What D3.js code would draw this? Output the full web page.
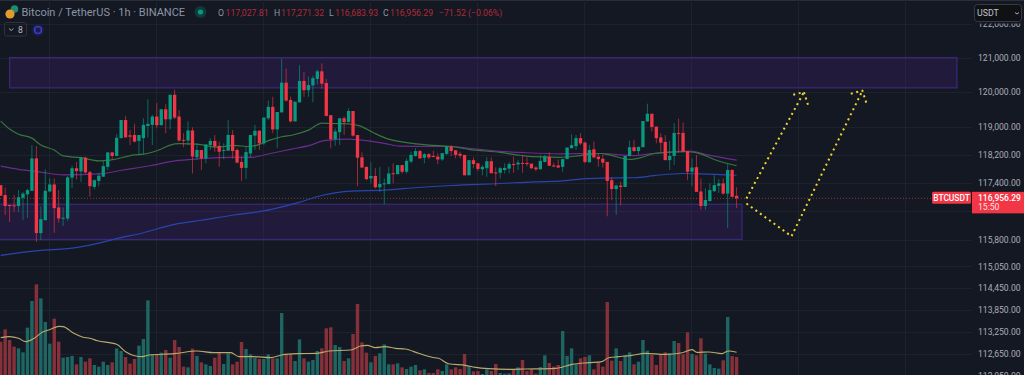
<!DOCTYPE html>
<html><head><meta charset="utf-8">
<script src="https://cdn.jsdelivr.net/npm/d3@7"></script>
<style>
html,body{margin:0;padding:0;background:#141823;overflow:hidden}
svg{display:block}
text{font-family:Roboto,"Liberation Sans",sans-serif}
</style></head><body><svg id="c" width="1024" height="375"></svg>
<script>
const opens=[117330,117050,116770,116760,116740,116970,117070,117170,118090,115980,116340,117150,117350,116700,116390,116390,117540,117810,117720,118110,117700,117280,117450,117570,117850,118260,118160,118670,119190,118750,118760,118590,118670,119020,119050,119290,119040,119500,119210,119920,119290,118620,118600,118890,118120,118330,118090,118470,118590,118450,118310,118310,118760,118330,117990,117820,
118230,118740,118880,118520,119240,119570,118920,119410,120270,119770,119150,119700,120320,120050,120190,120380,120600,120260,119330,118640,118840,119240,119130,119450,118760,118120,117850,117520,117590,117270,117360,117360,117670,117640,117900,117710,118000,118160,118300,118110,118210,118160,118140,118060,118220,118430,118320,118220,118190,117610,118040,117950,117780,117810,118010,117690,
117680,117760,117800,117930,117920,117960,117960,117940,117830,117780,117990,118140,117890,117890,117850,118070,118380,118440,118670,118540,117980,118350,118140,118080,117990,117470,117220,117320,117280,118160,118410,118300,118410,119150,119370,119000,118690,118560,118040,118160,118820,118820,118300,117710,117840,117150,116740,116880,117160,117310,117380,117090,117760,117027.81];
const highs=[117330,117260,116770,117050,117190,117140,117230,118470,118440,116730,117780,117520,117520,117190,116700,117590,117880,117990,118140,118140,117740,117490,117680,118020,118280,118280,118780,119190,119310,118900,119080,118760,119240,119790,119340,119680,119500,119650,119920,120070,119480,118810,119150,118980,118520,118330,118490,118670,118760,118570,118520,119190,118900,118380,118140,118410,
118760,119050,118900,119260,119750,119860,119420,120970,120680,119870,119720,120780,120580,120450,120470,120650,120830,120380,119330,118950,119240,119290,119530,119450,118760,118260,117850,117980,117810,117850,117520,117850,117950,117900,117900,118090,118280,118380,118330,118240,118240,118310,118240,118240,118450,118470,118330,118280,118190,118040,118120,117950,117900,118120,118120,117830,
117850,117950,117990,118140,118050,118190,118120,117940,117870,118190,118190,118260,117970,118060,118070,118400,118780,118760,118810,118570,118470,118570,118240,118190,117990,117550,117340,117430,118160,118600,118620,118420,119160,119660,119370,119000,118810,118760,118590,119100,119230,119120,118300,118090,118190,117520,117240,117380,117610,117500,117520,117930,117780,117271.32];
const lows=[117030,116480,116290,116570,116570,116340,116410,117170,115730,115780,116340,117150,115990,116270,116180,116320,117250,117490,117420,117660,117000,117210,117300,117570,117760,118040,118140,118660,118690,118470,118550,118190,118220,118690,118470,118950,119040,118810,118920,119220,118570,118410,118470,117660,118040,117760,117950,118330,118280,117850,118070,118310,118090,117950,117450,117500,
118120,118330,118330,118470,119190,118810,118380,119410,119720,119120,119150,119700,119860,119860,119700,120210,120090,119290,118380,118450,118470,118760,119130,118710,117300,117830,117470,117380,117240,117140,116790,117360,117380,117640,117660,117660,117950,118140,118090,117950,118070,118120,117930,118020,118190,118160,118090,118090,117610,117610,117810,117730,117610,117570,117660,117300,
117520,117660,117660,117680,117760,117680,117870,117790,117730,117780,117970,117870,117840,117810,117710,118070,118380,118330,118470,117950,117980,118090,117850,117830,116450,116900,116490,116760,117280,118140,118280,118190,118410,119140,118860,118520,118280,118040,117760,117900,118280,118280,117470,117300,117140,116630,116630,116860,117140,117110,117070,116120,116980,116683.93];
const closes=[117030,116740,116740,116740,116990,117090,117190,118090,115980,116370,117170,117350,116680,116390,116410,117550,117810,117730,118110,117690,117300,117470,117600,117870,118260,118160,118680,119190,118690,118710,118570,118760,119050,119080,119290,119040,119500,119210,119920,119260,118600,118600,118890,118140,118330,118090,118490,118590,118430,118280,118330,118760,118300,117970,117820,118270,
118760,118880,118520,119260,119570,118920,119420,120270,119750,119150,119720,120320,120050,120200,120400,120600,120240,119310,118640,118860,119240,119130,119450,118740,118110,117830,117500,117590,117270,117360,117380,117660,117660,117900,117710,118020,118190,118300,118090,118210,118120,118150,118060,118240,118430,118300,118190,118170,117610,118040,117930,117790,117850,118010,117670,117670,
117810,117820,117930,117900,117970,117940,117930,117810,117780,118020,118150,117880,117860,117830,118070,118400,118470,118670,118520,117990,118330,118120,118070,117970,117450,117220,117320,117280,118160,118410,118300,118420,119160,119370,118990,118670,118540,118040,118160,118820,118800,118280,117710,117830,117140,116740,116910,117190,117330,117380,117090,117760,117000,116956.29];
const volumes=[327,438,342,282,267,231,453,693,843,717,504,309,534,327,183,189,198,123,189,147,177,117,102,147,117,141,267,243,189,129,171,291,351,699,213,207,228,252,183,342,279,102,96,264,198,141,123,108,183,231,126,222,123,147,324,261,213,183,171,171,213,177,177,585,213,213,153,348,177,147,162,243,267,447,456,297,279,153,177,396,666,321,228,141,198,222,303,123,123,132,96,81,102,117,69,78,45,45,78,63,123,78,96,81,216,108,60,63,36,78,63,126,45,39,42,78,96,162,63,78,39,99,204,135,102,117,423,198,267,123,177,189,204,78,141,102,684,156,267,153,204,231,123,147,342,246,207,117,207,231,222,333,315,213,411,216,204,357,219,123,90,84,159,549,198,189];

const fastIdx=[0,2,4,7,9,12,14,18,22,24.5,30,32,36,38,40,44,48.5,52,56,58,60.5,63,65.5,69,72,74,78,80.5,83.5,87,91,96,101,105,112,116.5,119.5,125.5,130,134.5,136.5,141,143.5,146.5,149.5,154,157,160,165];
const fastMA=[119160,118930,118780,118670,118470,118330,118160,118110,118020,118040,118190,118210,118360,118470,118510,118500,118410,118460,118430,118490,118620,118710,118760,118900,119100,119090,119080,119020,118830,118640,118540,118470,118430,118350,118260,118180,118140,118120,118170,118230,118190,118060,118110,118230,118260,118280,118220,118060,117880];
const midIdx=[0,4,9,14,22,27.5,33.5,39,44.5,52,56,60.5,65,69.5,72.5,78,80.5,86,89.5,96,101,105,112,116.5,125.5,134.5,142,145.5,149.5,154.5,158.5,165];
const midMA=[117870,117780,117700,117620,117650,117760,117880,118020,118080,118120,118120,118230,118350,118470,118600,118640,118620,118520,118440,118430,118430,118380,118290,118260,118220,118230,118170,118220,118270,118300,118190,118040];
const slowIdx=[0,9,15,22,26,32,39,45,52,56,60.5,66.5,72,78.5,86,93.5,101,112,119.5,125.5,130.5,136,142,146.5,153,157,165];
const slowMA=[115356,115496,115543,115700,115823,115990,116226,116339,116480,116546,116640,116829,117036,117160,117188,117263,117320,117377,117425,117444,117510,117530,117540,117600,117660,117650,117610];
const volMaIdx=[0,2,4,5.6,7.5,9.3,11.2,13,14,16.4,18.3,20,21.7,26,28,30,31.8,33.3,38.9,44,47.8,51.6,53.4,56.8,60.5,63,66.5,71,73.6,78.5,80.7,82.2,84,86.2,88.5,90.7,93.7,96.7,98.2,100.4,104.2,106.4,109.4,113.9,117.6,124.4,128.1,131.8,134.8,136.3,138.6,141.5,144.5,149,152.8,155,156.1,158.8,161.7,163.2,165];
const volMA=[363,372,357,327,357,411,438,465,462,402,369,357,336,303,237,201,192,207,219,243,228,228,192,192,183,207,219,222,243,252,288,294,273,282,267,261,222,186,177,129,114,96,84,78,81,87,123,138,147,183,192,204,222,213,228,255,231,234,219,243,231];

const priceTicks=[122000,121000,120000,119000,118200,117400,116600,115800,115050,114450,113850,113250,112650,112050];
const timeGridIdx=[11,35,59,83,107,131,155,179,203];
const zoneTop={i1:214.4,hi:121000,lo:120120,start:2};
const zoneBottom={i0:-2,i1:166.2,hi:116790,lo:115800};
const lastPrice=116956.29;
const projDownIdx=[167.2,177.3,193.2];
const projDownPrice=[116810,115890,120035];
const projUpIdx=[167.2,180.1];
const projUpPrice=[116950,119998];
const headAIdx=[177.7,180.1,181.0];
const headAPrice=[119920,119998,119630];
const headBIdx=[190.6,193.2,194.1];
const headBPrice=[119950,120035,119680];

const BG='#141823',GRID='#1e222d',UP='#089981',DOWN='#f23645';
const x=d3.scaleLinear().domain([0,100]).range([0.7,446.7]);
const y=d3.scaleLog().domain([121000,115800]).range([57.6,239.5]);
const yV=d3.scaleLinear().domain([0,900]).range([378,278]);
const svg=d3.select('#c');
svg.append('rect').attr('width',1024).attr('height',375).attr('fill',BG);
svg.append('rect').attr('width',1024).attr('height',1).attr('fill','#2a2e39');

svg.append('defs').append('clipPath').attr('id','pane').append('rect').attr('width',972).attr('height',375);
const pane=svg.append('g').attr('clip-path','url(#pane)');

// grid
pane.append('g').selectAll('line').data(priceTicks).join('line')
 .attr('x1',0).attr('x2',972).attr('y1',d=>Math.round(y(d))+.5).attr('y2',d=>Math.round(y(d))+.5).attr('stroke',GRID);
pane.append('g').selectAll('line').data(timeGridIdx).join('line')
 .attr('x1',d=>Math.round(x(d))-.5).attr('x2',d=>Math.round(x(d))-.5).attr('y1',0).attr('y2',375).attr('stroke',GRID);

// zones
const zone=(i0,i1,hi,lo)=>pane.append('rect').attr('x',x(i0)).attr('y',y(hi)).attr('width',x(i1)-x(i0)).attr('height',y(lo)-y(hi))
 .attr('fill','rgba(90,35,150,.2)').attr('stroke','#382878').attr('stroke-width',1.3);
zone(zoneTop.start,zoneTop.i1,zoneTop.hi,zoneTop.lo);
zone(zoneBottom.i0,zoneBottom.i1,zoneBottom.hi,zoneBottom.lo);

// volume
const n=closes.length, idx=d3.range(n), isUp=i=>closes[i]>=opens[i];
pane.append('g').selectAll('rect').data(idx).join('rect')
 .attr('x',i=>x(i)-1.7).attr('width',3.4).attr('y',i=>yV(volumes[i])).attr('height',i=>yV(0)-yV(volumes[i]))
 .attr('fill',i=>isUp(i)?'#1d6662':'#86313a');
const lineOf=(xs,ys,yy)=>d3.line().x(d=>x(d)).y((d,i)=>yy(ys[i])).curve(d3.curveMonotoneX)(xs);
pane.append('path').attr('d',lineOf(volMaIdx,volMA,yV)).attr('fill','none').attr('stroke','#b8ab6e').attr('stroke-width',1.1);

// last price line
pane.append('line').attr('x1',0).attr('x2',972).attr('y1',y(lastPrice)).attr('y2',y(lastPrice))
 .attr('stroke','#8f3540').attr('stroke-dasharray','1 2');

// moving averages
[[slowIdx,slowMA,'#2b44ad'],[midIdx,midMA,'#6b2a8c'],[fastIdx,fastMA,'#37763c']].forEach(([a,b,c])=>{
 pane.append('path').attr('d',lineOf(a,b,y)).attr('fill','none').attr('stroke',c).attr('stroke-width',1.2);
});

// candles
const cg=pane.append('g');
cg.selectAll('line').data(idx).join('line')
 .attr('x1',i=>x(i)).attr('x2',i=>x(i)).attr('y1',i=>y(highs[i])).attr('y2',i=>y(lows[i]))
 .attr('stroke',i=>isUp(i)?UP:DOWN).attr('stroke-opacity',.62).attr('stroke-width',1);
cg.selectAll('rect').data(idx).join('rect')
 .attr('x',i=>x(i)-1.65).attr('width',3.3)
 .attr('y',i=>y(Math.max(opens[i],closes[i])))
 .attr('height',i=>Math.max(1,y(Math.min(opens[i],closes[i]))-y(Math.max(opens[i],closes[i]))))
 .attr('fill',i=>isUp(i)?UP:DOWN);

// projection dotted
const straight=(xs,ys)=>d3.line().x(d=>x(d)).y((d,i)=>y(ys[i]))(xs);
[[projDownIdx,projDownPrice],[projUpIdx,projUpPrice],[headAIdx,headAPrice],[headBIdx,headBPrice]].forEach(([a,b])=>{
 pane.append('path').attr('d',straight(a,b)).attr('fill','none').attr('stroke','#f2d52c').attr('stroke-width',2).attr('stroke-dasharray','2 3.6');
});

// price axis
const axis=svg.append('g').attr('transform','translate(978,0)').call(d3.axisRight(y).tickValues(priceTicks.filter(d=>d!==116600)).tickFormat(d3.format(',.2f')).tickSize(0).tickPadding(0));
axis.select('.domain').remove();
axis.selectAll('text').attr('fill','#a9adb8').style('font-size','8.6px').style('font-family','Roboto,sans-serif');

// price tags
const tagY=y(lastPrice);
svg.append('rect').attr('x',932).attr('y',tagY-6.5).attr('width',39).attr('height',12).attr('rx',1.5).attr('fill',DOWN);
svg.append('text').attr('x',951.5).attr('y',tagY+3).attr('text-anchor','middle').attr('fill','#fff').style('font-size','8.4px').style('font-weight',500).text('BTCUSDT');
svg.append('rect').attr('x',972).attr('y',tagY-6.5).attr('width',52).attr('height',21.5).attr('fill',DOWN);
svg.append('text').attr('x',978).attr('y',tagY+3).attr('fill','#fff').style('font-size','8.5px').style('font-weight',500).text(d3.format(',.2f')(lastPrice));
svg.append('text').attr('x',978).attr('y',tagY+12).attr('fill','#fde5e7').style('font-size','8.6px').text('15:50');

// USDT button, with its masking margin over the top tick label
svg.append('rect').attr('x',972).attr('y',1).attr('width',52).attr('height',22.5).attr('fill',BG);
svg.append('rect').attr('x',974.5).attr('y',4.5).attr('width',47).attr('height',17).attr('rx',3).attr('fill','#101114').attr('stroke','#363a45');
svg.append('text').attr('x',977).attr('y',16).attr('fill','#c3c5cc').style('font-size','8.8px').text('USDT');
svg.append('path').attr('d','M1015 12.5l2 1.5l2-1.5').attr('fill','none').attr('stroke','#a9adb8');

// header
svg.append('circle').attr('cx',14.5).attr('cy',9).attr('r',3.8).attr('fill','#1f8a70');
svg.append('circle').attr('cx',10).attr('cy',14).attr('r',4.6).attr('fill','#e59a2c');
svg.append('text').attr('x',21.5).attr('y',16).attr('fill','#8d94a3').style('font-size','11px').text('Bitcoin / TetherUS · 1h · BINANCE');
svg.append('circle').attr('cx',200.5).attr('cy',12).attr('r',6).attr('fill','#0e3a39');
svg.append('circle').attr('cx',200.5).attr('cy',12).attr('r',2.6).attr('fill','#089981');
const hdrLabels=['O','H','L','C'], hdrValues=[117027.81,117271.32,116683.93,116956.29], hdrX=[218,274,329,383], hdrVX=[225.5,281,335,390];
hdrLabels.forEach((l,i)=>{
 svg.append('text').attr('x',hdrX[i]).attr('y',15.5).attr('fill','#8d94a3').style('font-size','8.7px').text(l);
 svg.append('text').attr('x',hdrVX[i]).attr('y',15.5).attr('fill','#b32a37').style('font-size','8.7px').text(d3.format(',.2f')(hdrValues[i]));
});
svg.append('text').attr('x',439).attr('y',15.5).attr('fill','#b32a37').style('font-size','8.7px').text('−71.52 (−0.06%)');
svg.append('rect').attr('x',4.5).attr('y',22.5).attr('width',22).attr('height',13.5).attr('rx',2).attr('fill','none').attr('stroke','#2e323d');
svg.append('path').attr('d','M9 28.5l2.2 2l2.2-2').attr('fill','none').attr('stroke','#a9adb8');
svg.append('text').attr('x',18).attr('y',33).attr('fill','#b9bcc6').style('font-size','8.6px').text('8');
svg.append('circle').attr('cx',38).attr('cy',30).attr('r',6).attr('fill','#1d1c52');
svg.append('circle').attr('cx',38).attr('cy',30).attr('r',3.4).attr('fill','none').attr('stroke','#3a43c4').attr('stroke-width',1.4);
</script></body></html>
